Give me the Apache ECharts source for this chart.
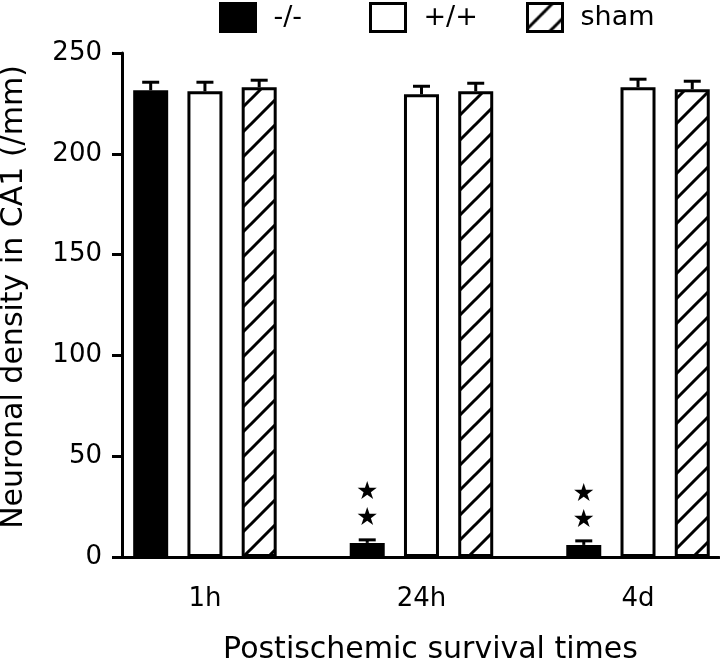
<!DOCTYPE html>
<html><head><meta charset="utf-8">
<script src="https://cdn.jsdelivr.net/npm/echarts@6/dist/echarts.min.js"></script>
<style>html,body{margin:0;padding:0;background:#fff}#c{width:720px;height:662px}</style>
</head><body><div id="c"></div>
<script>
// ---- data ----
const categories = ['1h', '24h', '4d'];
const seriesNames = ['-/-', '+/+', 'sham'];
const knockout = [231.5, 7, 6];
const knockoutErr = [4, 1.5, 2];
const wildtype = [231, 229.5, 233];
const wildtypeErr = [4.5, 4, 4];
const sham = [233, 231, 232];
const shamErr = [3.5, 4, 4];
const significance = ['', '★\n★', '★\n★'];

// ---- style ----
const FONT = 'DejaVu Sans';
const BAR_W = 35;
const BAR_GAP = 0.55;
const PITCH = BAR_W * (1 + BAR_GAP);
const CAP = 17;
const LEGEND_LEFT = [219, 369, 526];

function hatch() {
  const s = 25;
  const c = document.createElement('canvas');
  c.width = s; c.height = s;
  const g = c.getContext('2d');
  g.fillStyle = '#fff'; g.fillRect(0, 0, s, s);
  g.strokeStyle = '#000'; g.lineWidth = 3;
  g.beginPath();
  g.moveTo(-3, s + 3); g.lineTo(s + 3, -3);
  g.moveTo(-3, 3); g.lineTo(3, -3);
  g.moveTo(s - 3, s + 3); g.lineTo(s + 3, s - 3);
  g.stroke();
  return c;
}
const hatchFill = { image: hatch(), repeat: 'repeat' };

const fills = ['#000', '#fff', hatchFill];
const values = [knockout, wildtype, sham];
const errs = [knockoutErr, wildtypeErr, shamErr];

function errRenderer(k) {
  return function (params, api) {
    const i = api.value(0), v = api.value(1), e = api.value(2);
    const base = api.coord([i, v]);
    const top = api.coord([i, v + e]);
    const x = base[0] + (k - 1) * PITCH;
    return {
      type: 'group',
      children: [
        { type: 'line', shape: { x1: x, y1: base[1], x2: x, y2: top[1] }, style: { stroke: '#000', lineWidth: 3 } },
        { type: 'line', shape: { x1: x - CAP / 2, y1: top[1], x2: x + CAP / 2, y2: top[1] }, style: { stroke: '#000', lineWidth: 3 } }
      ]
    };
  };
}

const series = [];
values.forEach((vals, k) => {
  series.push({
    name: seriesNames[k],
    type: 'bar',
    barWidth: BAR_W,
    barGap: (BAR_GAP * 100) + '%',
    itemStyle: { color: fills[k], borderColor: '#000', borderWidth: 3 },
    emphasis: { disabled: true },
    data: vals.map((v, i) => k === 0 ? {
      value: [i, v],
      label: {
        show: !!significance[i], formatter: significance[i], position: 'top', distance: 11,
        fontSize: 25, lineHeight: 26, color: '#000', fontFamily: FONT
      }
    } : [i, v])
  });
});
values.forEach((vals, k) => {
  series.push({
    name: seriesNames[k] + ' err',
    type: 'custom',
    z: 5,
    renderItem: errRenderer(k),
    data: vals.map((v, i) => [i, v, errs[k][i]])
  });
});

const legends = seriesNames.map((n, k) => ({
  data: [n],
  left: LEGEND_LEFT[k], top: 2, padding: 0,
  icon: 'rect',
  itemWidth: 35, itemHeight: 28,
  itemStyle: { borderColor: '#000', borderWidth: 3 },
  textStyle: { fontSize: 27, color: '#000', fontFamily: FONT, padding: [0, 0, 0, 13] },
  selectedMode: false
}));

const chart = echarts.init(document.getElementById('c'), null, { renderer: 'canvas' });
chart.setOption({
  animation: false,
  backgroundColor: '#fff',
  legend: legends,
  grid: { left: 122, right: 1, top: 53, bottom: 105, containLabel: false, outerBoundsMode: 'none' },
  xAxis: {
    type: 'value',
    min: -0.383, max: 2.374,
    axisLine: { show: true, onZero: false, lineStyle: { color: '#000', width: 3 } },
    axisTick: { show: false },
    splitLine: { show: false },
    axisLabel: {
      customValues: [0, 1, 2],
      formatter: v => categories[Math.round(v)] || '',
      margin: 29, fontSize: 26, color: '#000', fontFamily: FONT
    },
    name: 'Postischemic survival times',
    nameLocation: 'middle', nameGap: 78,
    nameTextStyle: { fontSize: 30, color: '#000', fontFamily: FONT, padding: [0, 0, 0, 20] }
  },
  yAxis: {
    type: 'value', min: 0, max: 250, interval: 50,
    axisLine: { show: true, onZero: false, lineStyle: { color: '#000', width: 3 } },
    axisTick: { show: true, length: 10, lineStyle: { color: '#000', width: 3 } },
    splitLine: { show: false },
    axisLabel: { margin: 20, fontSize: 26, color: '#000', fontFamily: FONT },
    name: 'Neuronal density in CA1 (/mm)',
    nameLocation: 'middle', nameGap: 93,
    nameTextStyle: { fontSize: 30, color: '#000', fontFamily: FONT, padding: [0, 0, 0, 16] }
  },
  series: series
});
</script></body></html>
